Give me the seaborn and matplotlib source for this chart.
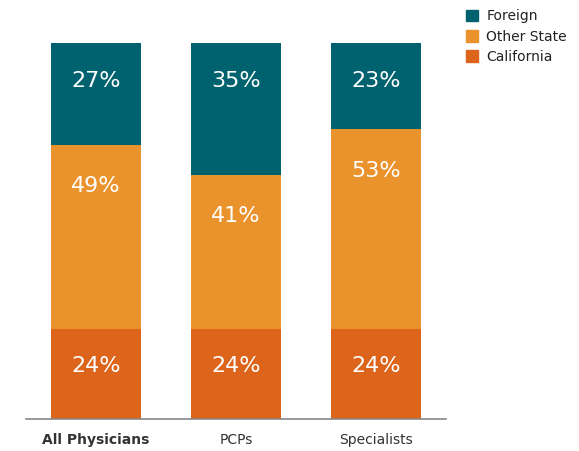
import numpy as np
import pandas as pd
import matplotlib
matplotlib.use("Agg")
import matplotlib.pyplot as plt
import seaborn as sns
from matplotlib.patches import Patch

# data
groups = ["All Physicians", "PCPs", "Specialists"]
california = [24, 24, 24]
other_state = [49, 41, 53]
foreign = [27, 35, 23]

series = ["California", "Other State", "Foreign"]
colors = {"California": "#DC651B", "Other State": "#EA922B", "Foreign": "#00626E"}

df = pd.DataFrame({"group": groups, "California": california,
                   "Other State": other_state, "Foreign": foreign})
cum = df[series].cumsum(axis=1)

sns.set_style("white")
fig = plt.figure(figsize=(5.79, 4.51), dpi=100)
ax = fig.add_axes([26 / 579, 32 / 451, 420 / 579, 376 / 451])

# stacked bars: draw the cumulative totals from top layer down
for s in reversed(series):
    sns.barplot(x=df["group"], y=cum[s], color=colors[s], width=0.643,
                linewidth=0, saturation=1, ax=ax)

# percent labels near the top of each segment
for i in range(len(groups)):
    for s in series:
        top = cum.loc[i, s]
        off = 11 if s == "Other State" else 10
        ax.text(i, top - off, f"{df.loc[i, s]}%", ha="center", va="center",
                color="white", fontsize=16)

ax.set_ylim(0, 100)
ax.set_xlim(-0.5, 2.5)
ax.set_xlabel("")
ax.set_ylabel("")
ax.set_yticks([])
sns.despine(ax=ax, left=True)
ax.spines["bottom"].set_color("#888888")
ax.spines["bottom"].set_linewidth(1.2)
ax.tick_params(axis="x", length=0, pad=10, labelsize=10, colors="#333333")
for lbl in ax.get_xticklabels():
    if lbl.get_text() == "All Physicians":
        lbl.set_fontweight("bold")

handles = [Patch(color=colors[s], label=s) for s in reversed(series)]
fig.legend(handles=handles, loc="upper left", bbox_to_anchor=(453 / 579, 1.007),
           frameon=False, fontsize=10, handlelength=0.9, handleheight=0.9,
           handletextpad=0.6, labelspacing=0.45, labelcolor="#222222")

fig.savefig("out.png", dpi=100)
